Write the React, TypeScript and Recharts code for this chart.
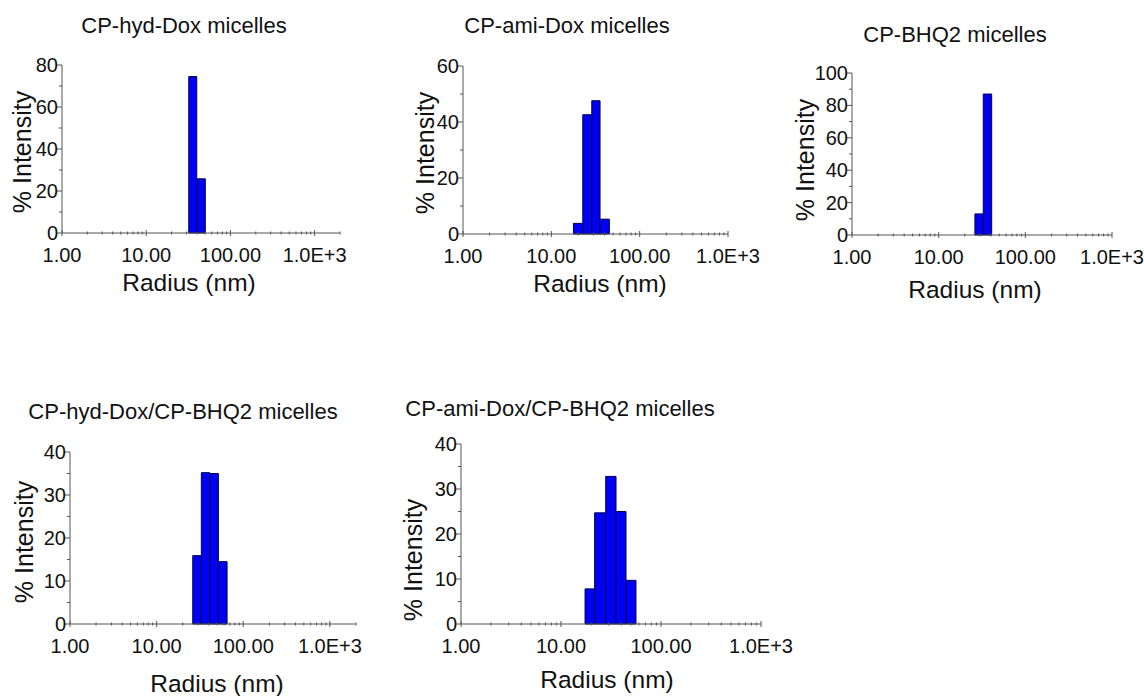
import React from "react";
import { ComposedChart, XAxis, YAxis, ReferenceArea, Line } from "recharts";

const FONT = "'Liberation Sans', Arial, sans-serif";

// bin edges (radius, nm) and % intensity per bin
const HYD_EDGES = [32.0, 39.8, 50.3];
const HYD_VALUES = [74.5, 25.8];
const AMI_EDGES = [17.8, 22.7, 28.7, 35.6, 45.4];
const AMI_VALUES = [3.8, 42.6, 47.6, 5.3];
const BHQ_EDGES = [26.2, 32.7, 40.9];
const BHQ_VALUES = [13, 87];
const HYD_MIX_EDGES = [26.1, 32.8, 41.0, 51.6, 65.0];
const HYD_MIX_VALUES = [15.9, 35.2, 35.0, 14.5];
const AMI_MIX_EDGES = [17.4, 21.7, 28.0, 35.5, 44.7, 56.2];
const AMI_MIX_VALUES = [7.8, 24.7, 32.8, 25.0, 9.7];

const TITLES = [
  "CP-hyd-Dox micelles",
  "CP-ami-Dox micelles",
  "CP-BHQ2 micelles",
  "CP-hyd-Dox/CP-BHQ2 micelles",
  "CP-ami-Dox/CP-BHQ2 micelles",
];
const X_TITLE = "Radius (nm)";
const Y_TITLE = "% Intensity";

const X_DECADES = [1, 10, 100, 1000];
const X_DECADE_LABELS = ["1.00", "10.00", "100.00", "1.0E+3"];

const Y_MAX = [80, 60, 100, 40, 40];
const Y_STEP = [20, 20, 20, 10, 10];
const X_MAX = [2000, 1000, 1000, 2000, 1000];

// plot areas in page pixels
const BOXES = [
  { x0: 62, x1: 340, y0: 65, y1: 233 },
  { x0: 463, x1: 728, y0: 66, y1: 234 },
  { x0: 852, x1: 1112, y0: 73, y1: 235 },
  { x0: 70, x1: 356, y0: 452, y1: 624 },
  { x0: 461, x1: 761, y0: 444, y1: 624 },
];
const TITLE_POS = [
  [184, 33],
  [567, 33],
  [955, 42],
  [183, 419],
  [560, 416],
];
const XLABEL_POS = [
  [189, 291],
  [600, 292],
  [975, 298],
  [217, 692],
  [607, 688],
];
const YLABEL_POS = [
  [22, 152],
  [425, 153],
  [805, 160],
  [24, 542],
  [413, 560],
];

const AXIS = "#555";
const TEXT = "#111";

function xTicksFor(max: number) {
  const out: number[] = [];
  X_DECADES.forEach((d) => {
    for (let k = 1; k <= 9; k++) if (k * d <= max) out.push(k * d);
  });
  return out;
}

function XTick(props: any) {
  const { x, y, payload } = props;
  const idx = X_DECADES.indexOf(payload.value);
  const major = idx >= 0;
  const h = major ? 3 : 1.5;
  return (
    <g>
      <line x1={x} x2={x} y1={y - h} y2={y + h} stroke={AXIS} />
      {major && (
        <text x={x} y={y + 29} textAnchor="middle" fontSize={20} fontFamily={FONT} fill={TEXT}>
          {X_DECADE_LABELS[idx]}
        </text>
      )}
    </g>
  );
}

function YTick(props: any) {
  const { x, y, payload, step } = props;
  const major = payload.value % step === 0;
  return (
    <g>
      <line x1={x - (major ? 5 : 3)} x2={x} y1={y} y2={y} stroke={AXIS} />
      {major && (
        <text x={x - 4} y={y + 7} textAnchor="end" fontSize={20} fontFamily={FONT} fill={TEXT}>
          {payload.value}
        </text>
      )}
    </g>
  );
}

function Panel({ edges, values, i }: { edges: number[]; values: number[]; i: number }) {
  const { x0, x1, y0, y1 } = BOXES[i];
  const padL = 60, padT = 15, padR = 45, padB = 45;
  const width = x1 - x0 + padL + padR;
  const height = y1 - y0 + padT + padB;
  const data = values.map((v, k) => ({
    lo: edges[k],
    hi: edges[k + 1],
    mid: Math.sqrt(edges[k] * edges[k + 1]),
    value: v,
  }));
  const yTicks: number[] = [];
  for (let t = 0; t <= Y_MAX[i]; t += Y_STEP[i] / 2) yTicks.push(t);

  return (
    <div style={{ position: "absolute", left: x0 - padL, top: y0 - padT }}>
      <ComposedChart
        width={width}
        height={height}
        data={data}
        margin={{ top: padT, right: padR, bottom: padB - 40, left: padL - 50 }}
      >
        <XAxis
          dataKey="mid"
          type="number"
          scale="log"
          domain={[1, X_MAX[i]]}
          allowDataOverflow
          ticks={xTicksFor(X_MAX[i])}
          interval={0}
          tickSize={0}
          tickMargin={0}
          tickLine={false}
          tick={<XTick />}
          height={40}
          axisLine={{ stroke: AXIS }}
        />
        <YAxis
          type="number"
          domain={[0, Y_MAX[i]]}
          allowDataOverflow
          ticks={yTicks}
          interval={0}
          tickSize={0}
          tickMargin={0}
          tickLine={false}
          tick={(p: any) => <YTick {...p} step={Y_STEP[i]} />}
          width={50}
          axisLine={{ stroke: AXIS }}
        />
        {data.map((d, k) => (
          <ReferenceArea
            key={k}
            x1={d.lo}
            x2={d.hi}
            y1={0}
            y2={d.value}
            fill="#0000f2"
            fillOpacity={1}
            stroke="#000050"
            strokeWidth={1}
            strokeOpacity={1}
            ifOverflow="visible"
          />
        ))}
        <Line
          dataKey="value"
          stroke="none"
          dot={false}
          activeDot={false}
          isAnimationActive={false}
          legendType="none"
        />
      </ComposedChart>
    </div>
  );
}

export default function App() {
  const panels = [
    [HYD_EDGES, HYD_VALUES],
    [AMI_EDGES, AMI_VALUES],
    [BHQ_EDGES, BHQ_VALUES],
    [HYD_MIX_EDGES, HYD_MIX_VALUES],
    [AMI_MIX_EDGES, AMI_MIX_VALUES],
  ];
  return (
    <div
      style={{
        position: "absolute",
        left: 0,
        top: 0,
        width: 1144,
        height: 696,
        background: "#fff",
        overflow: "hidden",
      }}
    >
      {panels.map(([e, v], i) => (
        <Panel key={i} edges={e} values={v} i={i} />
      ))}
      <svg
        width={1144}
        height={696}
        style={{ position: "absolute", left: 0, top: 0, pointerEvents: "none" }}
      >
        {TITLES.map((t, i) => (
          <text
            key={"t" + i}
            x={TITLE_POS[i][0]}
            y={TITLE_POS[i][1]}
            textAnchor="middle"
            fontSize={22}
            fontFamily={FONT}
            fill={TEXT}
          >
            {t}
          </text>
        ))}
        {XLABEL_POS.map(([x, y], i) => (
          <text key={"x" + i} x={x} y={y} textAnchor="middle" fontSize={24.5} fontFamily={FONT} fill={TEXT}>
            {X_TITLE}
          </text>
        ))}
        {YLABEL_POS.map(([x, y], i) => (
          <text
            key={"y" + i}
            transform={`translate(${x},${y}) rotate(-90)`}
            textAnchor="middle"
            dominantBaseline="central"
            fontSize={25}
            fontFamily={FONT}
            fill={TEXT}
          >
            {Y_TITLE}
          </text>
        ))}
      </svg>
    </div>
  );
}
